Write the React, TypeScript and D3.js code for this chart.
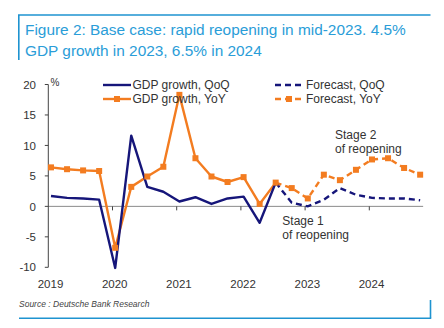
import React from "react";
import * as d3 from "d3";

const quarters = [
  "2019Q1", "2019Q2", "2019Q3", "2019Q4",
  "2020Q1", "2020Q2", "2020Q3", "2020Q4",
  "2021Q1", "2021Q2", "2021Q3", "2021Q4",
  "2022Q1", "2022Q2", "2022Q3", "2022Q4",
  "2023Q1", "2023Q2", "2023Q3", "2023Q4",
  "2024Q1", "2024Q2", "2024Q3", "2024Q4",
];
const years = [2019, 2020, 2021, 2022, 2023, 2024];
const yTicks = [-10, -5, 0, 5, 10, 15, 20];

// actual: 2019Q1..2022Q3
const qoqActual = [1.7, 1.4, 1.3, 1.1, -10.1, 11.6, 3.2, 2.4, 0.8, 1.5, 0.4, 1.3, 1.6, -2.7, 3.9];
const yoyActual = [6.4, 6.1, 5.9, 5.8, -6.8, 3.2, 4.9, 6.5, 18.3, 7.9, 4.9, 4.0, 4.8, 0.4, 3.9];
// forecast: 2022Q3..2024Q4
const qoqForecast = [3.9, 0.6, 0.0, 1.1, 3.0, 1.9, 1.4, 1.3, 1.3, 1.0];
const yoyForecast = [3.9, 3.0, 1.3, 5.2, 4.3, 6.0, 7.7, 7.9, 6.3, 5.2];
const forecastStart = "2022Q3";

const NAVY = "#16167a";
const ORANGE = "#f37c20";
const FRAME = "#1e93d0";
const TITLE = "#2a9dd8";
const TEXT = "#333";
const FONT = "'Liberation Sans', Arial, sans-serif";

function qTime(q: string) {
  const y = +q.slice(0, 4);
  const n = +q.slice(5);
  return y + (n - 1) / 4 + 0.042;
}

export default function App() {
  const x = d3.scaleLinear().domain([2019, 2025]).range([48.3, 433.5]);
  const y = d3.scaleLinear().domain([-10, 20]).range([267.3, 84.5]);

  const fStartIdx = quarters.indexOf(forecastStart);
  const actualPts = (vals: number[]) => vals.map((v, i) => [x(qTime(quarters[i])), y(v)] as [number, number]);
  const forecastPts = (vals: number[]) =>
    vals.map((v, i) => [x(qTime(quarters[fStartIdx + i])), y(v)] as [number, number]);

  const line = d3.line<[number, number]>().x((d) => d[0]).y((d) => d[1]);

  const qa = actualPts(qoqActual);
  const ya = actualPts(yoyActual);
  const qf = forecastPts(qoqForecast);
  const yf = forecastPts(yoyForecast);

  const x0 = x(2019);
  const xEnd = x(qTime(quarters[quarters.length - 1])) + 3;
  const y0 = y(0);
  const ms = 6;

  return (
    <svg width={444} height={328} style={{ position: "absolute", left: 0, top: 0, background: "#fff" }} fontFamily={FONT}>
      {/* frame */}
      <line x1={18} x2={430.5} y1={15} y2={15} stroke={FRAME} strokeWidth={1.6} />
      <line x1={18.8} x2={18.8} y1={15} y2={60} stroke={FRAME} strokeWidth={1.6} />
      <line x1={19} x2={431.2} y1={318.3} y2={318.3} stroke={FRAME} strokeWidth={1.6} />
      <line x1={430.5} x2={430.5} y1={300} y2={318.3} stroke={FRAME} strokeWidth={1.6} />

      {/* title */}
      <text x={25} y={35} fontSize={15.4} fill={TITLE}>Figure 2: Base case: rapid reopening in mid-2023. 4.5%</text>
      <text x={25} y={56} fontSize={15.4} fill={TITLE}>GDP growth in 2023, 6.5% in 2024</text>

      {/* zero line */}
      <line x1={x0} x2={xEnd} y1={y0} y2={y0} stroke="#8a8a8a" strokeWidth={1} />
      {years.slice(1).map((yr) => (
        <line key={yr} x1={x(yr)} x2={x(yr)} y1={y0} y2={y0 + 4} stroke="#444" strokeWidth={1} />
      ))}

      {/* y axis */}
      <line x1={x0} x2={x0} y1={y(20)} y2={y(-10)} stroke="#444" strokeWidth={1} />
      {yTicks.map((t) => (
        <g key={t}>
          <line x1={x0 - 3.5} x2={x0} y1={y(t)} y2={y(t)} stroke="#444" strokeWidth={1} />
          <text x={36} y={y(t)} dy="0.36em" textAnchor="end" fontSize={11.5} fill={TEXT}>
            {t}
          </text>
        </g>
      ))}
      <text x={50.5} y={86} fontSize={10} fill={TEXT}>%</text>

      {/* x labels */}
      {years.map((yr) => (
        <text key={yr} x={x(yr) + 2.2} y={287.5} textAnchor="middle" fontSize={11.5} fill={TEXT}>
          {yr}
        </text>
      ))}

      {/* series */}
      <path d={line(ya) || ""} fill="none" stroke={ORANGE} strokeWidth={2.4} strokeLinejoin="round" />
      <path d={line(yf) || ""} fill="none" stroke={ORANGE} strokeWidth={2.4} strokeDasharray="6 4" />
      <path d={line(qa) || ""} fill="none" stroke={NAVY} strokeWidth={2.4} strokeLinejoin="round" />
      <path d={line(qf) || ""} fill="none" stroke={NAVY} strokeWidth={2.4} strokeDasharray="6 4" />
      {ya.concat(yf.slice(1)).map((p, i) => (
        <rect key={i} x={p[0] - ms / 2} y={p[1] - ms / 2} width={ms} height={ms} fill={ORANGE} />
      ))}

      {/* annotations */}
      <text fontSize={12} fill={TEXT}>
        <tspan x={335} y={138.5}>Stage 2</tspan>
        <tspan x={335} y={152.5}>of reopening</tspan>
      </text>
      <text fontSize={12} fill={TEXT}>
        <tspan x={282.3} y={225}>Stage 1</tspan>
        <tspan x={282.3} y={239}>of reopening</tspan>
      </text>

      {/* legend */}
      <g fontSize={12} fill={TEXT}>
        <line x1={103} x2={131} y1={85} y2={85} stroke={NAVY} strokeWidth={2.4} />
        <text x={132.5} y={89}>GDP growth, QoQ</text>
        <line x1={103} x2={131} y1={99} y2={99} stroke={ORANGE} strokeWidth={2.4} />
        <rect x={117 - ms / 2} y={99 - ms / 2} width={ms} height={ms} fill={ORANGE} />
        <text x={132.5} y={103}>GDP growth, YoY</text>

        <line x1={275} x2={303} y1={85} y2={85} stroke={NAVY} strokeWidth={2.4} strokeDasharray="6 4" />
        <text x={306} y={89}>Forecast, QoQ</text>
        <line x1={275} x2={303} y1={99} y2={99} stroke={ORANGE} strokeWidth={2.4} strokeDasharray="6 4" />
        <rect x={289 - ms / 2} y={99 - ms / 2} width={ms} height={ms} fill={ORANGE} />
        <text x={306} y={103}>Forecast, YoY</text>
      </g>

      {/* source */}
      <text x={19} y={307} fontSize={8.5} fontStyle="italic" fill="#444">Source : Deutsche Bank Research</text>
    </svg>
  );
}
